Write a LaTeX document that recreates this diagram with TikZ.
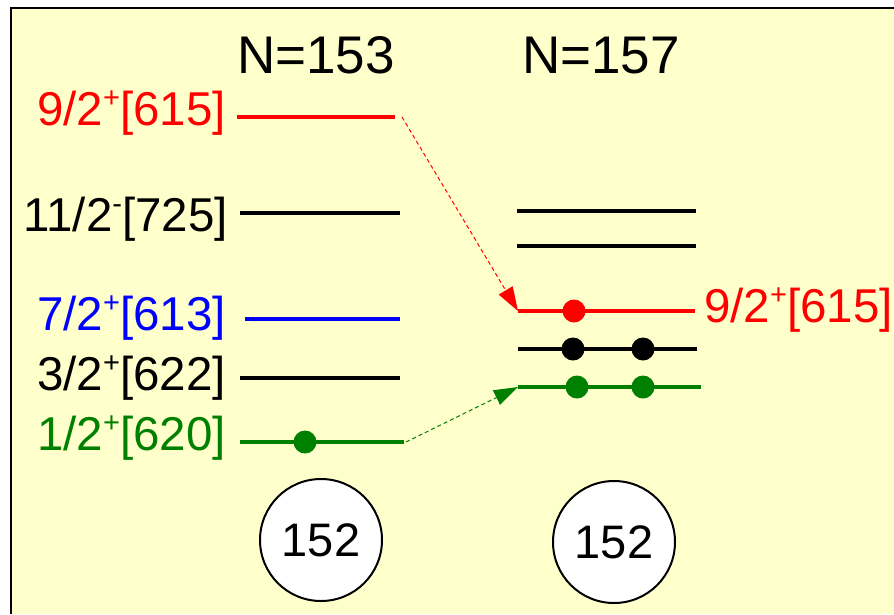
\documentclass[tikz,border=0pt]{standalone}
\usepackage{fontspec}
\setmainfont{Liberation Sans}
\usetikzlibrary{arrows.meta}
\definecolor{paper}{HTML}{FFFFCC}
\definecolor{lvred}{HTML}{FF0000}
\definecolor{lvblue}{HTML}{0000FF}
\definecolor{lvgreen}{HTML}{008000}
% raised parity sign after the spin value
\newcommand\upsign[1]{\raisebox{0.36em}{\fontsize{29}{29}\selectfont #1}}

\begin{document}
\begin{tikzpicture}[x=1pt,y=-1pt,
  level/.style={line width=3.5pt},
  orbit/.style={font=\fontsize{47.5}{52}\selectfont, inner sep=0pt},
  head/.style={font=\fontsize{53}{60}\selectfont, inner sep=0pt, anchor=base},
  pair/.style={circle, fill, inner sep=0pt, minimum size=23pt},
  core/.style={circle, draw, line width=2pt, fill=white, minimum size=122pt,
               inner sep=0pt, font=\fontsize{47}{52}\selectfont},
  jump/.style={line width=1pt, dash pattern=on 4pt off 3pt,
               -{Triangle[length=24pt,width=16pt]}}]
\useasboundingbox (0,0) rectangle (894,614);
\fill[paper] (11,8) rectangle (894,614);
\draw[line width=2.2pt] (11,614) -- (11,8) -- (894,8);

% column headings
\node[head] (h153) at (316,73) {N=153};
\node[head] (h157) at (601,73) {N=157};

% N=153 single-particle levels
\coordinate (a615) at (237,117);  \coordinate (b615) at (395,117);
\coordinate (a725) at (240,213);  \coordinate (b725) at (400,213);
\coordinate (a613) at (245,319);  \coordinate (b613) at (400,319);
\coordinate (a622) at (240,378);  \coordinate (b622) at (400,378);
\coordinate (a620) at (240,442);  \coordinate (b620) at (404,442);
\draw[level, lvred]   (a615) -- (b615);
\draw[level]          (a725) -- (b725);
\draw[level, lvblue]  (a613) -- (b613);
\draw[level]          (a622) -- (b622);
\draw[level, lvgreen] (a620) -- (b620);

\node[orbit, anchor=base east, text=lvred]   (t615) at (226,125) {9/2\upsign{+}[615]};
\node[orbit, anchor=base east]               (t725) at (228,231) {11/2\upsign{-}[725]};
\node[orbit, anchor=base east, text=lvblue]  (t613) at (226,330) {7/2\upsign{+}[613]};
\node[orbit, anchor=base east]               (t622) at (226,390) {3/2\upsign{+}[622]};
\node[orbit, anchor=base east, text=lvgreen] (t620) at (226,450) {1/2\upsign{+}[620]};

\node[pair, lvgreen] (p620) at (305,442) {};

% N=157 single-particle levels
\coordinate (c1) at (517,211);  \coordinate (d1) at (696,211);
\coordinate (c2) at (517,246);  \coordinate (d2) at (696,246);
\coordinate (c3) at (518,311);  \coordinate (d3) at (695,311);
\coordinate (c4) at (518,349);  \coordinate (d4) at (697,349);
\coordinate (c5) at (518,387);  \coordinate (d5) at (701,387);
\draw[level]          (c1) -- (d1);
\draw[level]          (c2) -- (d2);
\draw[level, lvred]   (c3) -- (d3);
\draw[level]          (c4) -- (d4);
\draw[level, lvgreen] (c5) -- (d5);

\node[pair, lvred]   (q3)  at (574,311) {};
\node[pair]          (q4a) at (573,349) {};
\node[pair]          (q4b) at (643,349) {};
\node[pair, lvgreen] (q5a) at (577,387) {};
\node[pair, lvgreen] (q5b) at (643,387) {};

\node[orbit, anchor=base west, text=lvred] (r615) at (704,322) {9/2\upsign{+}[615]};

% shell-gap cores
\node[core] (core1) at (321,540) {152};
\node[core] (core2) at (614,542) {152};

% level shifts between the isotones
\coordinate (s615) at (402,117);
\coordinate (s620) at (406,442);
\draw[jump, lvred]   (s615) -- (c3);
\draw[jump, lvgreen] (s620) -- (c5);
\end{tikzpicture}
\end{document}
